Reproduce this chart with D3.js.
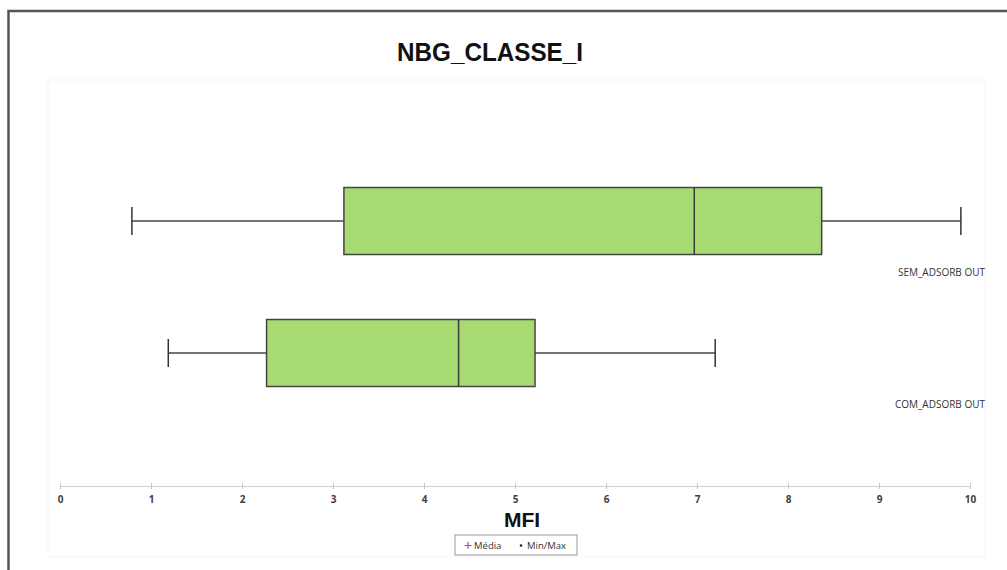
<!DOCTYPE html>
<html><head><meta charset="utf-8">
<script src="https://cdn.jsdelivr.net/npm/d3@7"></script>
<style>body{margin:0;background:#fff}svg{display:block}</style>
</head><body><svg id="c" width="1007" height="570"></svg>
<script>
const categories = ["SEM_ADSORB OUT", "COM_ADSORB OUT"];
const minVals    = [0.79, 1.19];
const q1Vals     = [3.12, 2.27];
const medianVals = [6.97, 4.38];
const q3Vals     = [8.37, 5.22];
const maxVals    = [9.90, 7.20];
const xTicks     = [0,1,2,3,4,5,6,7,8,9,10];
const titleText  = "NBG_CLASSE_I";
const xTitle     = "MFI";
const legendItems = ["Média", "Min/Max"];

const svg = d3.select("#c");
const W = 1007, H = 570;

// frame
svg.append("rect").attr("x", 8.5).attr("y", 11).attr("width", W).attr("height", H)
  .attr("fill", "#fff").attr("stroke", "#555").attr("stroke-width", 2.5);
// faint plot-area border
svg.append("rect").attr("x", 48).attr("y", 80).attr("width", 937).attr("height", 477)
  .attr("fill", "none").attr("stroke", "#f6f6f6").attr("stroke-width", 1);

const x = d3.scaleLinear().domain([0, 10]).range([60, 970]);
const y = d3.scaleBand().domain(categories).range([155, 419]).paddingInner(0).paddingOuter(0);

const data = categories.map((c, i) => ({c, min: minVals[i], q1: q1Vals[i], med: medianVals[i], q3: q3Vals[i], max: maxVals[i]}));

// title
svg.append("text").attr("x", 490).attr("y", 61).attr("text-anchor", "middle")
  .attr("font-family", "Liberation Sans, Arial, sans-serif").attr("font-weight", "bold")
  .attr("font-size", 25).attr("textLength", 186).attr("lengthAdjust", "spacingAndGlyphs")
  .attr("fill", "#111").text(titleText);

// axis
const axisG = svg.append("g").attr("transform", "translate(0,486)");
axisG.call(d3.axisBottom(x).tickValues(xTicks).tickSize(0).tickPadding(10).tickFormat(d3.format("d")));
axisG.select(".domain").attr("stroke", "#d0d0d0");
axisG.selectAll(".tick text").attr("font-family", "Open Sans, Liberation Sans, sans-serif")
  .attr("font-size", 10).attr("font-weight", "bold").attr("fill", "#404040");
axisG.selectAll(".tick").append("line").attr("y1", -3).attr("y2", 3).attr("stroke", "#c8c8c8");

// x title
svg.append("text").attr("x", 522).attr("y", 527).attr("text-anchor", "middle")
  .attr("font-family", "Liberation Sans, Arial, sans-serif").attr("font-weight", "bold")
  .attr("font-size", 21).attr("fill", "#111").text(xTitle);

// boxes
const boxH = 67, capH = 28;
const g = svg.append("g");
data.forEach(d => {
  const cy = y(d.c) + y.bandwidth() / 2;
  g.append("line").attr("x1", x(d.min)).attr("x2", x(d.q1)).attr("y1", cy).attr("y2", cy)
    .attr("stroke", "#444").attr("stroke-width", 1.5);
  g.append("line").attr("x1", x(d.q3)).attr("x2", x(d.max)).attr("y1", cy).attr("y2", cy)
    .attr("stroke", "#444").attr("stroke-width", 1.5);
  [d.min, d.max].forEach(v => g.append("line").attr("x1", x(v)).attr("x2", x(v))
    .attr("y1", cy - capH / 2).attr("y2", cy + capH / 2).attr("stroke", "#333").attr("stroke-width", 1.5));
  g.append("rect").attr("x", x(d.q1)).attr("y", cy - boxH / 2)
    .attr("width", x(d.q3) - x(d.q1)).attr("height", boxH)
    .attr("fill", "#a8da74").attr("stroke", "#444").attr("stroke-width", 1.5);
  g.append("line").attr("x1", x(d.med)).attr("x2", x(d.med))
    .attr("y1", cy - boxH / 2).attr("y2", cy + boxH / 2).attr("stroke", "#3a3a3a").attr("stroke-width", 1.5);
  g.append("text").attr("x", 985).attr("y", cy + 55).attr("text-anchor", "end")
    .attr("font-family", "Open Sans, Liberation Sans, sans-serif").attr("font-size", 10)
    .attr("fill", "#333").text(d.c);
});

// legend
const lg = svg.append("g");
lg.append("rect").attr("x", 455).attr("y", 535).attr("width", 122).attr("height", 20)
  .attr("fill", "#fff").attr("stroke", "#999").attr("stroke-width", 1);
lg.append("text").attr("x", 468).attr("y", 550).attr("text-anchor", "middle")
  .attr("font-family", "Liberation Sans, sans-serif").attr("font-size", 14).attr("fill", "#d04040").text("+");
lg.append("text").attr("x", 474).attr("y", 549).attr("font-family", "Open Sans, Liberation Sans, sans-serif")
  .attr("font-size", 9.5).attr("fill", "#333").text(legendItems[0]);
lg.append("circle").attr("cx", 521).attr("cy", 545.5).attr("r", 1.3).attr("fill", "#222");
lg.append("text").attr("x", 527).attr("y", 549).attr("font-family", "Open Sans, Liberation Sans, sans-serif")
  .attr("font-size", 9.5).attr("fill", "#333").text(legendItems[1]);
</script></body></html>
